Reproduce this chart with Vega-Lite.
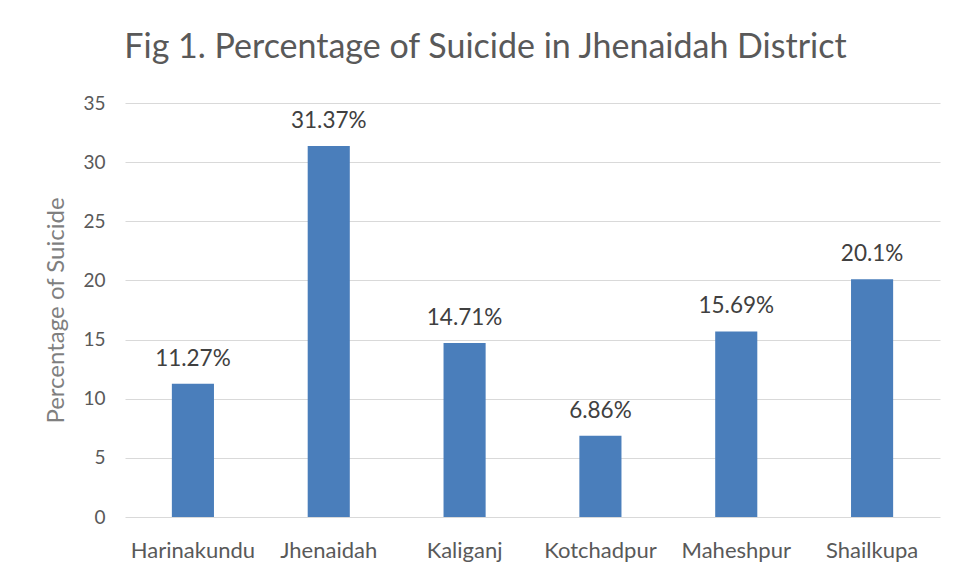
{
  "$schema": "https://vega.github.io/schema/vega-lite/v6.json",
  "width": 815,
  "height": 414,
  "autosize": {"type": "none"},
  "padding": {"left": 125, "top": 103, "right": 25, "bottom": 62},
  "background": "white",
  "title": {
    "text": "Fig 1. Percentage of Suicide in Jhenaidah District",
    "anchor": "middle",
    "frame": "group",
    "font": "Lato",
    "fontSize": 34,
    "fontWeight": "normal",
    "color": "#595959",
    "offset": 29,
    "dx": -47
  },
  "data": {
    "values": [
      {"upazila": "Harinakundu", "pct": 11.27, "label": "11.27%"},
      {"upazila": "Jhenaidah", "pct": 31.37, "label": "31.37%"},
      {"upazila": "Kaliganj", "pct": 14.71, "label": "14.71%"},
      {"upazila": "Kotchadpur", "pct": 6.86, "label": "6.86%"},
      {"upazila": "Maheshpur", "pct": 15.69, "label": "15.69%"},
      {"upazila": "Shailkupa", "pct": 20.1, "label": "20.1%"}
    ]
  },
  "encoding": {
    "x": {
      "field": "upazila",
      "type": "nominal",
      "sort": null,
      "scale": {"paddingInner": 0.69},
      "axis": {
        "title": null,
        "labelAngle": 0,
        "labelFont": "Lato",
        "labelFontSize": 22,
        "labelColor": "#595959",
        "labelPadding": 23,
        "ticks": false,
        "domain": false
      }
    },
    "y": {
      "field": "pct",
      "type": "quantitative",
      "scale": {"domain": [0, 35]},
      "axis": {
        "title": "Percentage of Suicide",
        "titleFont": "Lato",
        "titleFontSize": 24,
        "titleFontWeight": "normal",
        "titleColor": "#7f7f7f",
        "titlePadding": 14,
        "values": [0, 5, 10, 15, 20, 25, 30, 35],
        "labelFont": "Lato",
        "labelFontSize": 19,
        "labelColor": "#595959",
        "labelPadding": 20,
        "ticks": false,
        "domain": false,
        "grid": true,
        "gridColor": "#d9d9d9",
        "gridWidth": 1
      }
    }
  },
  "layer": [
    {"mark": {"type": "bar", "color": "#4a7ebb"}},
    {
      "mark": {"type": "text", "baseline": "alphabetic", "dy": -18, "font": "Lato", "fontSize": 22.5, "color": "#404040"},
      "encoding": {"text": {"field": "label", "type": "nominal"}}
    }
  ],
  "config": {"view": {"stroke": null}}
}
